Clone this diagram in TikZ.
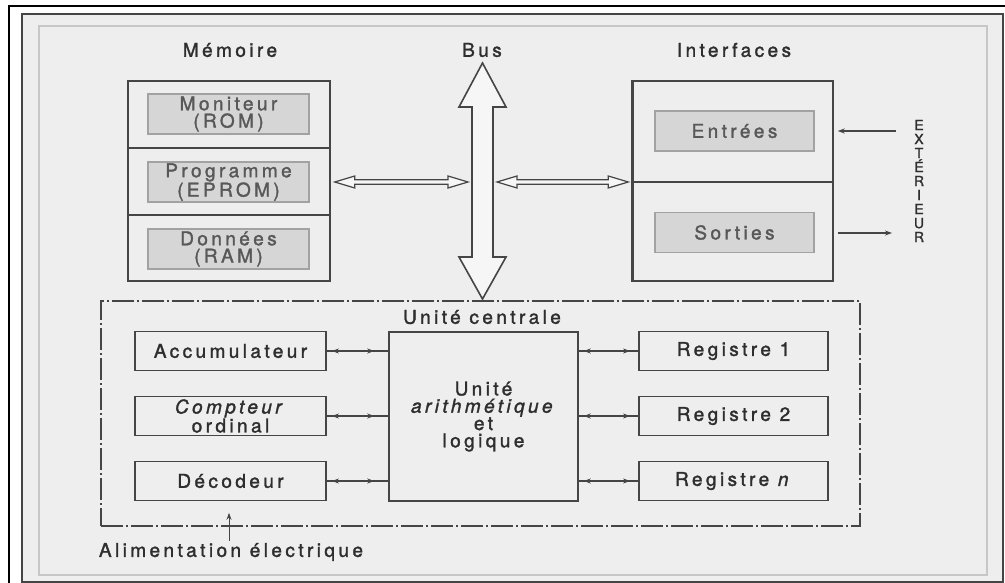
\documentclass[tikz,border=0pt]{standalone}
\usepackage{fontspec}
\usepackage{tikz}
\usetikzlibrary{calc}
\usetikzlibrary{arrows.meta}
\newfontfamily\diagfont{TeX Gyre Heros}[LetterSpace=18, FakeBold=1.6]
\newcommand{\diagtext}{\diagfont\fontsize{19}{17.3}\selectfont}
\definecolor{bggray}{HTML}{EEEEEE}
\definecolor{cellgray}{HTML}{D6D6D6}
\definecolor{cellline}{HTML}{A2A2A2}
\definecolor{boxline}{HTML}{454545}
\definecolor{inkgray}{HTML}{2E2E2E}
\tikzset{
  unitbox/.style={draw=boxline, line width=1.8pt, minimum width=191pt, minimum height=39pt,
    inner sep=0pt, align=center, font=\diagtext, text=inkgray},
  cellbox/.style={draw=cellline, fill=cellgray, line width=1.2pt, minimum width=161pt, minimum height=40pt,
    inner sep=0pt, align=center, font=\diagtext, text=inkgray!80},
  groupbox/.style={draw=boxline, line width=1.5pt, minimum width=202pt, minimum height=200pt, inner sep=0pt},
  caption/.style={font=\diagtext, text=inkgray, inner sep=0pt},
  linkarrow/.style={boxline, line width=1.3pt, {Stealth[length=7pt,width=5pt]}-{Stealth[length=7pt,width=5pt]}},
  onearrow/.style={boxline, line width=1.2pt, -{Stealth[length=7pt,width=5pt]}},
  hollow/.style={draw=boxline, line width=1.2pt, fill=bggray!50, line join=miter},
}
\newcommand{\hollowarrow}[2]{%
  \draw[hollow] ($(#1)+(4,0)$) -- ($(#1)+(24,-6)$) -- ($(#1)+(24,-2.2)$) -- ($(#2)+(-24,-2.2)$)
    -- ($(#2)+(-24,-6)$) -- ($(#2)+(-4,0)$) -- ($(#2)+(-24,6)$) -- ($(#2)+(-24,2.2)$)
    -- ($(#1)+(24,2.2)$) -- ($(#1)+(24,6)$) -- cycle;}
\begin{document}
\begin{tikzpicture}[x=1pt, y=-1pt]
  % frame
  \useasboundingbox (0,0) rectangle (1005,583);
  \fill[white] (0,0) rectangle (1005,583);
  \fill[bggray] (22,14) rectangle (1003,582);
  \draw[black, line width=2pt] (9,583) -- (9,6) -- (1005,6);
  \draw[boxline, line width=1.5pt] (22,582) -- (22,14) -- (1003,14) -- (1003,582) -- cycle;
  \draw[black!22, line width=1.5pt] (39,26) rectangle (987,575);

  % titles
  \node[caption] (memlabel) at (230,50) {Mémoire};
  \node[caption] (buslabel) at (482,50) {Bus};
  \node[caption] (itflabel) at (734,50) {Interfaces};

  % memoire
  \node[groupbox] (mem) at (229,181) {};
  \draw[boxline, line width=1.5pt] (mem.west |- 0,148) -- (mem.east |- 0,148);
  \draw[boxline, line width=1.5pt] (mem.west |- 0,215) -- (mem.east |- 0,215);
  \node[cellbox] (mon) at (228.5,114) {Moniteur\\(ROM)};
  \node[cellbox] (prog) at (228.5,182) {Programme\\(EPROM)};
  \node[cellbox] (don) at (228.5,249) {Données\\(RAM)};

  % interfaces
  \node[groupbox, minimum width=200pt] (itf) at (733,181) {};
  \draw[boxline, line width=2.5pt] (itf.south west) -- (itf.north west);
  \draw[boxline, line width=1.5pt] (itf.west |- 0,182) -- (itf.east |- 0,182);
  \node[cellbox, minimum width=159pt] (ent) at (734.5,131) {Entrées};
  \node[cellbox, minimum width=159pt] (sor) at (734.5,232.5) {Sorties};

  % bus
  \coordinate (bustop) at (482.5,63);
  \coordinate (busbot) at (482.5,299);
  \draw[hollow, line width=1.6pt] (bustop) -- ($(bustop)+(23.5,44)$) -- ($(bustop)+(10.5,44)$)
    -- ($(busbot)+(10.5,-42)$) -- ($(busbot)+(23.5,-42)$) -- (busbot) -- ($(busbot)+(-23.5,-42)$)
    -- ($(busbot)+(-10.5,-42)$) -- ($(bustop)+(-10.5,44)$) -- ($(bustop)+(-23.5,44)$) -- cycle;
  \coordinate (busl) at (472,182);
  \coordinate (busr) at (493,182);
  \hollowarrow{mem.east |- busl}{busl}
  \hollowarrow{busr}{itf.west |- busr}

  % exterieur
  \coordinate (extin) at (896,131);
  \coordinate (extout) at (892,233);
  \draw[onearrow, shorten >=4pt] (extin) -- (itf.east |- extin);
  \draw[onearrow, shorten <=4pt] (itf.east |- extout) -- (extout);
  \node[caption, align=center, font=\diagfont\fontsize{14}{14}\selectfont] (ext) at (919,181)
    {E\\X\\T\\É\\R\\I\\E\\U\\R};

  % unite centrale
  \node[draw=boxline, line width=1.5pt, dash pattern=on 22pt off 3pt on 2pt off 3pt,
    minimum width=759pt, minimum height=225pt, inner sep=0pt] (cpu) at (480.5,413.5) {};
  \node[caption] (cpulabel) at (482,317) {Unité centrale};
  \node[unitbox, line width=1.5pt, minimum width=189pt, minimum height=169pt] (alu) at (483.5,416.5)
    {Unité\\\textit{arithmétique}\\et\\logique};
  \node[unitbox] (acc) at (230.5,351) {Accumulateur};
  \node[unitbox] (cpt) at (230.5,416) {\textit{Compteur}\\ordinal};
  \node[unitbox] (dec) at (230.5,481) {Décodeur};
  \node[unitbox, minimum width=189pt] (reg1) at (733.5,351) {Registre 1};
  \node[unitbox, minimum width=189pt] (reg2) at (733.5,416) {Registre 2};
  \node[unitbox, minimum width=189pt] (regn) at (733.5,481) {Registre \textit{n}};
  \foreach \left/\right in {acc/reg1, cpt/reg2, dec/regn} {
    \draw[boxline, line width=1.3pt] (\left.east) -- (alu.west |- \left.east);
    \draw[linkarrow, shorten <=5pt, shorten >=14pt] (\left.east) -- (alu.west |- \left.east);
    \draw[boxline, line width=1.3pt] (alu.east |- \right.west) -- (\right.west);
    \draw[linkarrow, shorten <=5pt, shorten >=8pt] (alu.east |- \right.west) -- (\right.west);
  }

  % alimentation
  \node[caption] (alim) at (231,552) {Alimentation électrique};
  \draw[onearrow, line width=1pt] ($(alim.north)+(-2,-2)$) -- ($(alim.north)+(-2,-30)$);
\end{tikzpicture}
\end{document}
